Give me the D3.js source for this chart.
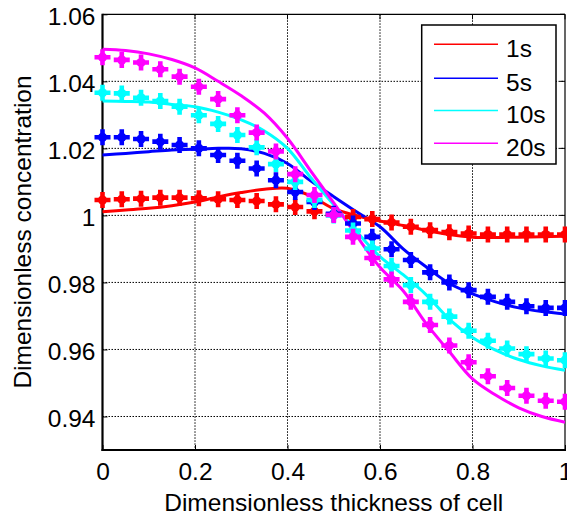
<!DOCTYPE html>
<html><head><meta charset="utf-8">
<script src="https://cdn.jsdelivr.net/npm/d3@7"></script>
<style>body{margin:0;background:#fff}svg{display:block}text{font-family:Arial,"Liberation Sans",sans-serif;fill:#000}</style>
</head><body><svg id="c" width="567" height="521"></svg>
<script>
const seriesNames = ["1s","5s","10s","20s"];
const seriesColors = ["#ff0000","#0000ff","#00ffff","#ff00ff"];
const xTicks = [0,0.2,0.4,0.6,0.8,1];
const xTickLabels = ["0","0.2","0.4","0.6","0.8","1"];
const yTicks = [0.94,0.96,0.98,1.00,1.02,1.04,1.06];
const yTickLabels = ["0.94","0.96","0.98","1","1.02","1.04","1.06"];

// marker positions (25 points)
const markerX = [0,1/24,2/24,3/24,4/24,5/24,6/24,7/24,8/24,9/24,10/24,11/24,12/24,13/24,14/24,15/24,16/24,17/24,18/24,19/24,20/24,21/24,22/24,23/24,1];
const mark1s  = [1.0046,1.0048,1.0050,1.0053,1.0053,1.0051,1.0048,1.0046,1.0043,1.0033,1.0025,1.0012,1.0003,0.9995,0.9989,0.9979,0.9966,0.9956,0.9950,0.9946,0.9943,0.9943,0.9943,0.9943,0.9943];
const mark5s  = [1.0233,1.0233,1.0228,1.0220,1.0210,1.0200,1.0180,1.0163,1.0140,1.0105,1.0070,1.0040,1.0005,0.9976,0.9936,0.9899,0.9867,0.9830,0.9800,0.9777,0.9757,0.9742,0.9729,0.9724,0.9724];
const mark10s = [1.0366,1.0364,1.0351,1.0341,1.0324,1.0299,1.0273,1.0240,1.0203,1.0153,1.0100,1.0046,1.0000,0.9955,0.9901,0.9849,0.9792,0.9742,0.9698,0.9656,0.9626,0.9603,0.9586,0.9573,0.9568];
const mark20s = [1.0472,1.0464,1.0456,1.0436,1.0414,1.0384,1.0347,1.0299,1.0247,1.0191,1.0123,1.0061,1.0001,0.9936,0.9873,0.9809,0.9742,0.9673,0.9612,0.9562,0.9520,0.9485,0.9462,0.9447,0.9444];

// model lines
const lineX = [0,0.05,0.1,0.15,0.2,0.25,0.3,0.35,0.4,0.45,0.5,0.55,0.6,0.65,0.7,0.75,0.8,0.85,0.9,0.95,1];
const line1s  = [1.0011,1.0016,1.0021,1.0029,1.0040,1.0055,1.0068,1.0078,1.0081,1.0058,1.0020,0.9999,0.9983,0.9970,0.9955,0.9943,0.9935,0.9934,0.9935,0.9936,0.9938];
const line5s  = [1.0180,1.0185,1.0190,1.0195,1.0197,1.0200,1.0199,1.0185,1.0155,1.0103,1.0056,1.0010,0.9966,0.9900,0.9846,0.9797,0.9766,0.9742,0.9724,0.9713,0.9706];
const line10s = [1.0341,1.0340,1.0338,1.0331,1.0324,1.0308,1.0285,1.0252,1.0200,1.0113,1.0032,0.9951,0.9877,0.9823,0.9763,0.9690,0.9636,0.9598,0.9570,0.9551,0.9538];
const line20s = [1.0496,1.0492,1.0482,1.0465,1.0440,1.0400,1.0357,1.0305,1.0230,1.0133,1.0037,0.9938,0.9845,0.9775,0.9677,0.9593,0.9512,0.9464,0.9426,0.9400,0.9383];

const marks = [mark1s,mark5s,mark10s,mark20s];
const lines = [line1s,line5s,line10s,line20s];

const L=102.5, R=565, T=14.3, B=450;
const x = d3.scaleLinear().domain([0,1]).range([L,R]);
const y = d3.scaleLinear().domain([0.93,1.06]).range([B,T]);
const svg = d3.select("#c");
const fs = "24.5px";

// grid
const g = svg.append("g");
xTicks.forEach(t=>{ if(t>0&&t<1) g.append("line").attr("x1",x(t)).attr("x2",x(t)).attr("y1",T).attr("y2",B).attr("stroke","#000").attr("stroke-width",1).attr("stroke-dasharray","1.5,1.5");});
yTicks.forEach(t=>{ if(t<1.06) g.append("line").attr("x1",L).attr("x2",R).attr("y1",y(t)).attr("y2",y(t)).attr("stroke","#000").attr("stroke-width",1).attr("stroke-dasharray","1.5,1.5");});

// axes via d3
const xAxis = svg.append("g").attr("transform",`translate(0,${B})`).call(d3.axisBottom(x).tickValues(xTicks).tickFormat((d,i)=>xTickLabels[i]).tickSizeInner(-5).tickSizeOuter(0).tickPadding(12));
const yAxis = svg.append("g").attr("transform",`translate(${L},0)`).call(d3.axisLeft(y).tickValues(yTicks).tickFormat((d,i)=>yTickLabels[i]).tickSizeInner(-5).tickSizeOuter(0).tickPadding(7));
[xAxis,yAxis].forEach(a=>{a.select(".domain").remove(); a.selectAll("line").attr("stroke","#000"); a.selectAll("text").style("font-size",fs).style("font-family","Arial,'Liberation Sans',sans-serif").attr("fill","#000");});
xAxis.selectAll("text").attr("dy","0.71em").attr("y",13);
yAxis.selectAll("text").attr("dy","0.40em");
// top/right ticks
xTicks.forEach(t=>svg.append("line").attr("x1",x(t)).attr("x2",x(t)).attr("y1",T).attr("y2",T+5).attr("stroke","#000"));
yTicks.forEach(t=>svg.append("line").attr("x1",R).attr("x2",R-5).attr("y1",y(t)).attr("y2",y(t)).attr("stroke","#000"));

// frame
svg.append("line").attr("x1",L).attr("x2",R).attr("y1",T).attr("y2",T).attr("stroke","#000").attr("stroke-width",1.2);
svg.append("line").attr("x1",R).attr("x2",R).attr("y1",T).attr("y2",B).attr("stroke","#000").attr("stroke-width",1.2);
svg.append("line").attr("x1",L).attr("x2",L).attr("y1",T-0.5).attr("y2",B+1).attr("stroke","#000").attr("stroke-width",2.2);
svg.append("line").attr("x1",L-1).attr("x2",R+1).attr("y1",B).attr("y2",B).attr("stroke","#000").attr("stroke-width",2.2);

// lines
const lg = d3.line().x(d=>x(d[0])).y(d=>y(d[1])).curve(d3.curveCatmullRom.alpha(0.5));
lines.forEach((ys,k)=>{
  svg.append("path").datum(lineX.map((xv,i)=>[xv,ys[i]])).attr("d",lg).attr("fill","none").attr("stroke",seriesColors[k]).attr("stroke-width",3);
});
// markers (bold plus / 4-point star)
const plus = "M-8,-2.3 H-2.3 V-8 H2.3 V-2.3 H8 V2.3 H2.3 V8 H-2.3 V2.3 H-8 Z";
marks.forEach((ys,k)=>{
  const mg = svg.append("g");
  markerX.forEach((xv,i)=>{
    mg.append("path").attr("d",plus).attr("transform",`translate(${x(xv)},${y(ys[i])})`).attr("fill",seriesColors[k]);
    mg.append("circle").attr("cx",x(xv)).attr("cy",y(ys[i])).attr("r",4.6).attr("fill",seriesColors[k]);
  });
});

// legend
const lgd = svg.append("g");
lgd.append("rect").attr("x",421.7).attr("y",25).attr("width",134.3).attr("height",139).attr("fill","#fff").attr("stroke","#000").attr("stroke-width",1.5);
const rowY = [44.3,78.3,110.5,143.3];
seriesNames.forEach((n,k)=>{
  lgd.append("line").attr("x1",434).attr("x2",498).attr("y1",rowY[k]).attr("y2",rowY[k]).attr("stroke",seriesColors[k]).attr("stroke-width",1.6);
  lgd.append("text").attr("x",506).attr("y",rowY[k]+12.3).style("font-size",fs).text(n);
});

// axis titles
svg.append("text").attr("x",(L+R)/2).attr("y",511).attr("text-anchor","middle").style("font-size",fs).text("Dimensionless thickness of cell");
svg.append("text").attr("transform","translate(31,232) rotate(-90)").attr("text-anchor","middle").style("font-size",fs).text("Dimensionless concentration");
</script></body></html>
